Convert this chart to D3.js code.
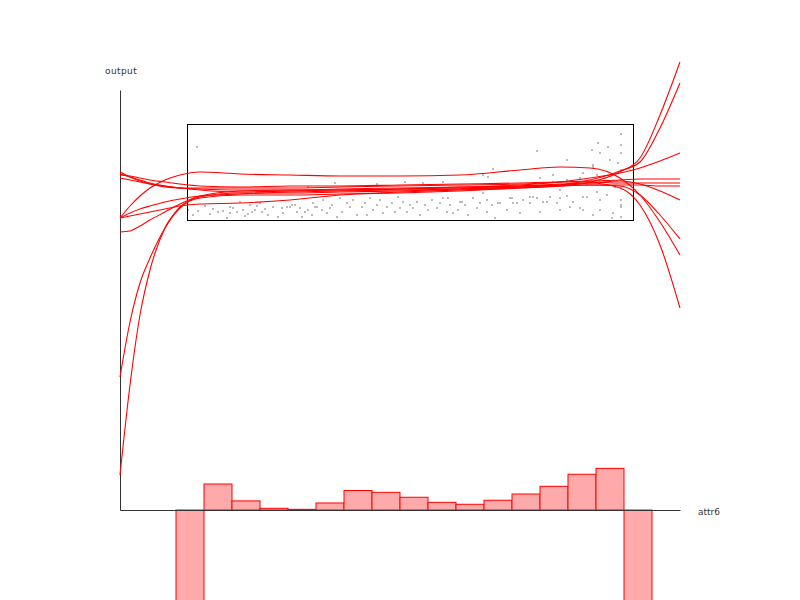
<!DOCTYPE html>
<html>
<head>
<meta charset="utf-8">
<script src="https://cdn.jsdelivr.net/npm/d3@7"></script>
<style>
  html, body { margin: 0; padding: 0; background: #fff; }
  svg { display: block; }
</style>
</head>
<body>
<svg id="chart" width="800" height="600"></svg>
<script>
// ---------- data ----------
const xLabel = "attr6";
const yLabel = "output";

// bounding box of the observed data (attr6, output)
const boxX = [6.7, 51.3];
const boxY = [29.05, 38.6];

// scatter observations
const scatterX = [7.7,6.8,7.8,7.3,9.3,9.8,10.3,10.7,11.0,11.3,11.7,12.0,12.3,12.8,13.2,13.5,14.0,14.2,14.8,15.3,16.2,16.3,16.7,11.0,13.7,17.0,17.5,18.8,18.0,19.5,8.5,9.0,12.5,14.5,15.8,13.0,
17.2,17.7,18.2,18.5,18.8,19.2,19.3,19.7,20.2,20.3,20.7,21.0,21.2,21.7,22.0,22.2,22.7,23.0,23.3,23.7,24.2,24.5,24.7,25.0,25.3,25.7,26.0,26.3,26.7,27.2,27.5,27.8,28.0,28.3,28.7,29.0,29.3,29.7,30.0,30.5,30.8,31.2,31.7,32.0,32.3,32.7,33.0,33.3,33.8,34.2,34.5,34.8,35.3,35.7,36.0,36.3,36.7,37.2,37.5,37.8,
21.5,25.7,28.5,30.3,32.3,37.3,36.8,
36.3,46.0,47.3,47.7,46.7,44.7,43.3,42.0,32.8,34.0,36.7,38.0,39.0,40.3,41.3,42.7,44.0,45.3,46.7,48.0,48.7,39.7,
41.7,50.1,47.8,48.0,48.8,47.2,50.1,49.8,44.7,49.0,47.3,50.1,46.3,43.3,42.0,45.7,48.7,49.5,50.1,44.0,47.7,39.2,41.0,41.7,43.0,44.7,46.3,50.1,39.3,41.0,42.3,43.7,45.0,46.3,48.0,49.3,50.1,38.7,40.0,42.0,44.0,46.0,47.3,49.2,50.1,50.1,50.1,50.1];
const scatterY = [36.3,30.0,29.9,29.5,30.1,29.8,29.9,29.2,29.7,30.2,29.8,30.8,30.0,29.6,29.8,30.0,30.7,29.8,29.5,30.3,30.2,29.7,30.3,30.3,30.4,30.3,30.5,32.3,30.2,30.3,30.4,29.6,29.4,30.1,29.3,30.5,
30.5,29.8,29.3,29.8,30.0,29.5,30.7,30.3,30.0,31.0,29.7,30.2,30.5,29.3,31.2,29.8,30.7,30.3,31.0,29.5,30.3,30.7,29.5,31.2,30.0,30.5,31.0,29.7,30.3,30.7,29.8,31.3,30.2,30.8,29.8,30.5,30.2,30.8,29.5,30.5,30.0,31.0,30.2,30.7,31.2,29.8,30.5,29.7,30.0,30.8,30.5,29.5,31.2,30.2,30.7,31.7,29.8,30.5,29.2,30.7,
32.7,32.6,32.8,32.7,32.8,34.1,33.3,
33.5,33.2,34.3,33.5,32.5,33.0,32.8,32.7,31.2,30.8,31.0,30.7,31.2,31.0,31.3,30.8,31.2,30.8,31.3,31.0,31.5,30.7,
35.9,37.6,36.7,35.7,36.3,36.0,35.7,34.7,35.0,35.0,34.5,34.0,33.7,33.5,33.2,32.7,32.5,32.3,32.2,32.0,31.8,31.2,31.3,31.2,31.3,31.4,31.3,30.3,30.7,30.7,30.8,30.7,30.3,30.0,30.0,29.7,30.5,30.0,29.7,29.8,30.0,30.2,29.5,29.2,29.3,31.0,33.0,36.5];

// fitted curves, sampled at curveX
const curveX = [0,1,2,3,4.5,6,8,12,17,22,28,34,40,44,47,50,52,54,56];
const fit1  = [3.5,12.5,19.5,24.0,28.2,30.2,31.2,31.5,31.5,31.6,31.7,31.9,32.2,32.4,32.8,33.8,35.2,39.5,44.8];
const fit2  = [13.3,18.8,22.7,25.2,28.2,30.3,31.3,31.7,31.7,31.8,31.9,32.1,32.3,32.5,33.0,33.9,34.8,38.2,42.7];
const fit3  = [29.2,30.4,31.4,32.2,33.0,33.5,33.8,33.6,33.5,33.4,33.4,33.5,34.0,34.3,34.2,33.2,31.5,28.8,25.5];
const fit4  = [27.8,27.9,28.4,29.0,29.8,30.6,31.4,31.9,32.0,32.0,32.1,32.2,32.4,32.6,32.7,32.2,30.5,26.5,20.2];
const fit5  = [29.2,29.7,30.1,30.4,30.8,31.1,31.4,31.6,31.8,31.9,32.0,32.1,32.3,32.5,32.7,32.9,32.6,31.9,31.0];
const fit6  = [29.2,29.4,29.6,29.8,30.1,30.4,30.6,30.7,31.0,31.5,31.8,32.0,32.2,32.4,32.5,32.4,31.5,29.5,27.1];
const fit7  = [33.8,33.3,32.9,32.6,32.3,32.2,32.2,32.2,32.2,32.3,32.4,32.5,32.6,32.8,32.9,33.0,33.1,33.1,33.1];
const fit8  = [33.5,33.4,33.2,33.0,32.8,32.6,32.4,32.3,32.4,32.4,32.5,32.6,32.7,32.8,32.8,32.7,32.7,32.7,32.7];
const fit9  = [33.2,33.0,32.8,32.6,32.4,32.2,32.1,32.0,32.0,32.1,32.2,32.3,32.4,32.5,32.5,32.5,32.5,32.4,32.4];
const fit10 = [33.6,33.3,33.0,32.7,32.4,32.2,32.0,31.8,31.9,32.0,32.1,32.3,32.5,32.8,33.2,33.7,34.2,34.9,35.7];
const fits = [fit1, fit2, fit3, fit4, fit5, fit6, fit7, fit8, fit9, fit10];

// histogram of attr6
const binStart = 5.6;
const binWidth = 2.8;
const histCounts = [-80, 20, 7, 1.3, 0.5, 5.4, 15, 13.6, 9.8, 5.9, 4.4, 7.5, 12.3, 18.2, 27.5, 32, -80];

// ---------- drawing ----------
const svg = d3.select("#chart");
const margin = {left: 120, right: 120, top: 90, bottom: 90};
const W = 800, H = 600;

const x = d3.scaleLinear().domain([0, 56]).range([margin.left, W - margin.right]);
const y = d3.scaleLinear().domain([0, 42]).range([H - margin.bottom, margin.top]);
const yHist = d3.scaleLinear().domain([0, 32]).range([H - margin.bottom, H - margin.bottom - 41.6]);

// histogram
const bins = histCounts.map((c, i) => ({x0: binStart + i * binWidth, x1: binStart + (i + 1) * binWidth, c}));
svg.append("g").selectAll("rect").data(bins).join("rect")
  .attr("x", d => x(d.x0))
  .attr("width", d => x(d.x1) - x(d.x0))
  .attr("y", d => Math.min(yHist(d.c), yHist(0)))
  .attr("height", d => Math.abs(yHist(d.c) - yHist(0)))
  .attr("fill", "#ffaaaa")
  .attr("stroke", "#ff0000")
  .attr("stroke-width", 1);

// axes
svg.append("g")
  .attr("transform", `translate(${margin.left},0)`)
  .call(d3.axisLeft(y).ticks(0).tickSize(0).tickSizeOuter(0))
  .call(g => g.select(".domain").attr("stroke", "#333"));
svg.append("g")
  .attr("transform", `translate(0,${H - margin.bottom})`)
  .call(d3.axisBottom(x).ticks(0).tickSize(0).tickSizeOuter(0))
  .call(g => g.select(".domain").attr("stroke", "#333"));

svg.append("text").attr("x", 105).attr("y", 74)
  .attr("font-family", "DejaVu Sans, sans-serif").attr("font-size", 9).attr("fill", "#333")
  .attr("letter-spacing", 0.4)
  .text(yLabel);
svg.append("text").attr("x", 698).attr("y", 515)
  .attr("font-family", "DejaVu Sans, sans-serif").attr("font-size", 9).attr("fill", "#333")
  .text(xLabel);

// scatter
svg.append("g").selectAll("rect").data(d3.range(scatterX.length)).join("rect")
  .attr("x", i => x(scatterX[i]) - 1)
  .attr("y", i => y(scatterY[i]) - 1)
  .attr("width", 2).attr("height", 2)
  .attr("fill", "#aaa").attr("opacity", 0.8);

// bounding box (pixel-aligned)
svg.append("rect")
  .attr("x", Math.round(x(boxX[0])) + 0.5).attr("y", Math.round(y(boxY[1])) + 0.5)
  .attr("width", Math.round(x(boxX[1]) - x(boxX[0])))
  .attr("height", Math.round(y(boxY[0]) - y(boxY[1])))
  .attr("fill", "none").attr("stroke", "#000").attr("stroke-width", 1);

// fitted curves
const line = d3.line().x((d, i) => x(curveX[i])).y(d => y(d)).curve(d3.curveMonotoneX);
svg.append("g").selectAll("path").data(fits).join("path")
  .attr("d", line)
  .attr("fill", "none")
  .attr("stroke", "#ff0000")
  .attr("stroke-width", 1.1);
</script>
</body>
</html>
